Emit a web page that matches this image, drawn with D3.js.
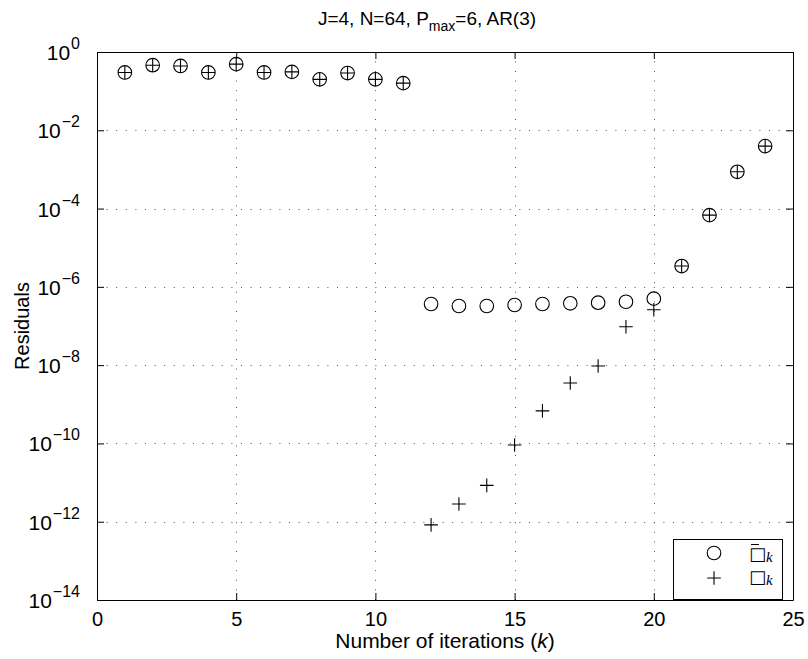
<!DOCTYPE html>
<html><head><meta charset="utf-8">
<script src="https://cdn.jsdelivr.net/npm/d3@7"></script>
<style>body{margin:0;background:#fff} text{font-family:"Liberation Sans",Arial,Helvetica,sans-serif;fill:#000}</style>
</head><body><svg id="c" width="808" height="659"></svg>
<script>
const iterations=[1,2,3,4,5,6,7,8,9,10,11,12,13,14,15,16,17,18,19,20,21,22,23,24];
const rBar=[0.30,0.46,0.44,0.30,0.49,0.30,0.31,0.20,0.29,0.20,0.16,
  3.65e-7,3.24e-7,3.24e-7,3.44e-7,3.65e-7,3.8e-7,3.94e-7,4.17e-7,5.0e-7,
  3.4e-6,6.8e-5,8.7e-4,3.95e-3];
const rK=[0.30,0.46,0.44,0.30,0.49,0.30,0.31,0.20,0.29,0.20,0.16,
  8.3e-13,2.83e-12,8.5e-12,9.1e-11,6.8e-10,3.5e-9,9.5e-9,9.6e-8,2.6e-7,
  3.4e-6,6.8e-5,8.7e-4,3.95e-3];
const xTicks=[0,5,10,15,20,25];
const yTicks=[1,1e-2,1e-4,1e-6,1e-8,1e-10,1e-12,1e-14];
const xLabel="Number of iterations (";
const yLabel="Residuals";

const svg=d3.select("#c");
const L=97,R=793,T=52,B=600;
const x=d3.scaleLinear().domain([0,25]).range([L,R]);
const y=d3.scaleLog().domain([1e-14,1]).range([B,T]);
const FS=20;

// grid
const grid=svg.append("g").attr("stroke","#555").attr("stroke-width",1).attr("stroke-dasharray","1,8.6");
grid.selectAll(".gx").data(xTicks.filter(d=>d>0&&d<25)).join("line")
  .attr("x1",d=>Math.round(x(d))+0.5).attr("x2",d=>Math.round(x(d))+0.5).attr("y1",B).attr("y2",T);
grid.selectAll(".gy").data(yTicks.filter(d=>d<1&&d>1e-14)).join("line")
  .attr("y1",d=>Math.round(y(d))+0.5).attr("y2",d=>Math.round(y(d))+0.5).attr("x1",L).attr("x2",R);

// axes
const ax=d3.axisBottom(x).tickValues(xTicks).tickSizeInner(-7).tickSizeOuter(0).tickPadding(12).tickFormat(d3.format("d"));
const gx=svg.append("g").attr("transform",`translate(0,${B})`).call(ax);
gx.selectAll("text").attr("font-size",FS).style("font-family",'"Liberation Sans",Arial,sans-serif');
const axT=d3.axisTop(x).tickValues(xTicks).tickSizeInner(-7).tickSizeOuter(0).tickFormat("");
svg.append("g").attr("transform",`translate(0,${T})`).call(axT);
const ay=d3.axisLeft(y).tickValues(yTicks).tickSizeInner(-7).tickSizeOuter(0).tickFormat("");
svg.append("g").attr("transform",`translate(${L},0)`).call(ay);
const ayR=d3.axisRight(y).tickValues(yTicks).tickSizeInner(-7).tickSizeOuter(0).tickFormat("");
svg.append("g").attr("transform",`translate(${R},0)`).call(ayR);
svg.selectAll(".domain").attr("stroke","#000");
svg.selectAll(".tick line").attr("stroke","#000");

// y tick labels 10^e
const yl=svg.append("g").selectAll("text").data(yTicks).join("text")
  .attr("x",L-17).attr("y",d=>y(d)+8).attr("text-anchor","end").attr("font-size",21);
yl.append("tspan").text("10");
yl.append("tspan").attr("dx",1).attr("dy",-11).attr("font-size",16).text(d=>{const e=Math.round(Math.log10(d));return e===0?"0":"\u2212"+(-e);});

// labels
const xl=svg.append("text").attr("x",(L+R)/2).attr("y",648).attr("text-anchor","middle").attr("font-size",21);
xl.append("tspan").text(xLabel);
xl.append("tspan").attr("font-style","italic").text("k");
xl.append("tspan").text(")");
svg.append("text").attr("transform",`translate(29,${(T+B)/2}) rotate(-90)`).attr("text-anchor","middle").attr("font-size",20).text(yLabel);

// title
const tt=svg.append("text").attr("x",427).attr("y",25).attr("text-anchor","middle").attr("font-size",19);
tt.append("tspan").text("J=4, N=64, P");
tt.append("tspan").attr("dy",6).attr("font-size",14).text("max");
tt.append("tspan").attr("dy",-6).text("=6, AR(3)");

// markers
const data=iterations.map((k,i)=>({k,rb:rBar[i],r:rK[i]}));
const mk=svg.append("g").attr("fill","none").attr("stroke","#000").attr("stroke-width",1.1);
mk.selectAll("circle").data(data).join("circle").attr("cx",d=>x(d.k)).attr("cy",d=>y(d.rb)).attr("r",6.8);
const P=6.8;
mk.selectAll("path.p").data(data).join("path").attr("class","p")
  .attr("d",d=>`M${x(d.k)-P},${y(d.r)}H${x(d.k)+P}M${x(d.k)},${y(d.r)-P}V${y(d.r)+P}`);

// legend
const lg=svg.append("g");
lg.append("rect").attr("x",673.5).attr("y",539.5).attr("width",109).attr("height",60).attr("fill","#fff").attr("stroke","#000");
lg.append("circle").attr("cx",714).attr("cy",553).attr("r",6.8).attr("fill","none").attr("stroke","#000").attr("stroke-width",1.1);
lg.append("path").attr("d",`M${714-P},578H${714+P}M714,${578-P}V${578+P}`).attr("stroke","#000").attr("stroke-width",1.1);
const lbl=[{y:560,bar:true},{y:583,bar:false}];
lbl.forEach(o=>{
  const t=lg.append("text").attr("x",749).attr("y",o.y).attr("font-size",18).style("font-family","'DejaVu Sans',sans-serif");
  t.append("tspan").text("\u25A1");
  t.append("tspan").attr("dy",2).attr("font-size",15).attr("font-style","italic").style("font-family","'Liberation Serif',serif").text("k");
  if(o.bar) lg.append("line").attr("x1",751).attr("x2",759).attr("y1",544.5).attr("y2",544.5).attr("stroke","#000");
});
</script></body></html>
